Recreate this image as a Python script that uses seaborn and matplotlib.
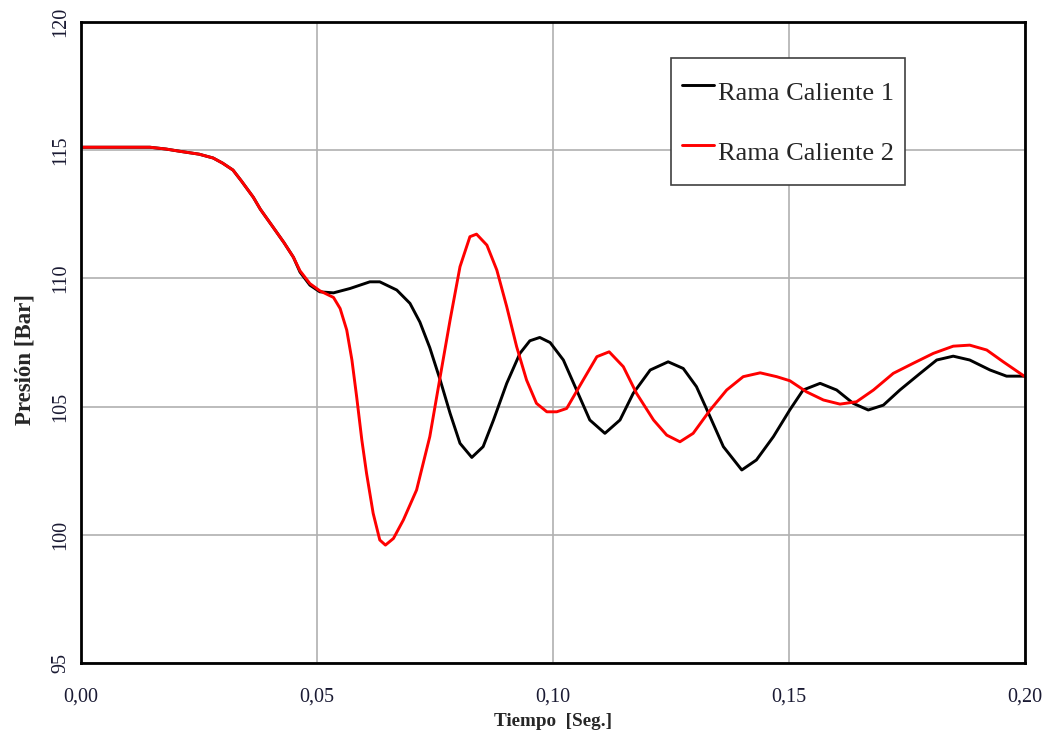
import numpy as np
import pandas as pd
import matplotlib
matplotlib.use('Agg')
import matplotlib.pyplot as plt
import seaborn as sns
from matplotlib.ticker import MultipleLocator, FuncFormatter

# Rama Caliente 1 (black)
t_rc1 = [0.000, 0.010, 0.0146, 0.018, 0.021, 0.025, 0.028, 0.030, 0.0322, 0.034,
         0.0365, 0.038, 0.0407, 0.043, 0.045, 0.0464, 0.0485, 0.0506, 0.0535, 0.057,
         0.0612, 0.0633, 0.0669, 0.0697, 0.0718, 0.0739, 0.0761, 0.0782, 0.0803, 0.0828,
         0.0852, 0.0874, 0.0902, 0.093, 0.0951, 0.0972, 0.0994, 0.1022, 0.105, 0.1078,
         0.111, 0.1142, 0.117, 0.1206, 0.1244, 0.1276, 0.1304, 0.1333, 0.1361, 0.140,
         0.1431, 0.1467, 0.1502, 0.153, 0.1566, 0.1601, 0.1636, 0.1668, 0.170, 0.1735,
         0.1778, 0.1813, 0.1848, 0.1883, 0.1926, 0.1961, 0.200]
p_rc1 = [115.12, 115.12, 115.12, 115.05, 114.96, 114.85, 114.70, 114.50, 114.23, 113.80,
         113.17, 112.70, 112.00, 111.40, 110.83, 110.25, 109.74, 109.48, 109.44, 109.61,
         109.87, 109.87, 109.55, 109.03, 108.30, 107.30, 106.04, 104.74, 103.57, 103.02,
         103.44, 104.48, 105.91, 107.08, 107.57, 107.70, 107.50, 106.82, 105.65, 104.48,
         103.96, 104.48, 105.52, 106.43, 106.75, 106.49, 105.78, 104.60, 103.44, 102.53,
         102.92, 103.83, 104.88, 105.65, 105.91, 105.65, 105.13, 104.87, 105.06, 105.65,
         106.30, 106.82, 106.97, 106.82, 106.43, 106.19, 106.19]

# Rama Caliente 2 (red)
t_rc2 = [0.000, 0.010, 0.0146, 0.018, 0.021, 0.025, 0.028, 0.030, 0.0322, 0.034,
         0.0365, 0.038, 0.0407, 0.043, 0.045, 0.0464, 0.0485, 0.0506, 0.0535, 0.0549,
         0.0563, 0.0574, 0.0584, 0.0595, 0.0605, 0.0619, 0.0633, 0.0645, 0.0662, 0.0683,
         0.0711, 0.0739, 0.0761, 0.0782, 0.0803, 0.0824, 0.0838, 0.086, 0.0881, 0.0902,
         0.0923, 0.0944, 0.0965, 0.0987, 0.1008, 0.1029, 0.1064, 0.1093, 0.1119, 0.1149,
         0.1177, 0.1213, 0.1241, 0.1269, 0.1297, 0.1333, 0.1368, 0.1403, 0.1439, 0.1474,
         0.1502, 0.1537, 0.1573, 0.1608, 0.1643, 0.1679, 0.1721, 0.1763, 0.1806, 0.1848,
         0.1883, 0.1919, 0.1954, 0.200]
p_rc2 = [115.12, 115.12, 115.12, 115.05, 114.96, 114.85, 114.70, 114.50, 114.23, 113.80,
         113.17, 112.70, 112.00, 111.40, 110.83, 110.30, 109.80, 109.52, 109.26, 108.83,
         107.99, 106.82, 105.39, 103.70, 102.40, 100.84, 99.80, 99.60, 99.86, 100.58,
         101.75, 103.83, 106.17, 108.38, 110.46, 111.63, 111.73, 111.30, 110.33, 108.90,
         107.34, 106.04, 105.13, 104.80, 104.80, 104.93, 106.04, 106.95, 107.14, 106.56,
         105.52, 104.48, 103.89, 103.63, 103.96, 104.87, 105.65, 106.17, 106.32, 106.17,
         106.01, 105.58, 105.26, 105.10, 105.19, 105.65, 106.30, 106.69, 107.08, 107.36,
         107.40, 107.21, 106.75, 106.17]

series_names = ['Rama Caliente 1', 'Rama Caliente 2']
series_colors = ['black', '#ff0000']
x_ticks = [0.00, 0.05, 0.10, 0.15, 0.20]
y_ticks = [95, 100, 105, 110, 115, 120]

df = pd.concat([
    pd.DataFrame({'t': t_rc1, 'p': p_rc1, 'serie': series_names[0]}),
    pd.DataFrame({'t': t_rc2, 'p': p_rc2, 'serie': series_names[1]}),
])

sns.set_style('white')
plt.rcParams['font.family'] = ['Liberation Serif', 'DejaVu Serif']

fig = plt.figure(figsize=(10.52, 7.38), dpi=100)
ax = fig.add_axes([0.077, 0.1016, 0.8973, 0.8684])

sns.lineplot(data=df, x='t', y='p', hue='serie', palette=series_colors,
             linewidth=2.1, ax=ax)

ax.set_xlim(x_ticks[0], x_ticks[-1])
ax.set_ylim(y_ticks[0], y_ticks[-1])
ax.set_xticks(x_ticks)
ax.set_yticks(y_ticks)
ax.xaxis.set_minor_locator(MultipleLocator(0.01))
ax.yaxis.set_minor_locator(MultipleLocator(1))
ax.xaxis.set_major_formatter(FuncFormatter(lambda v, pos: f'{v:.2f}'.replace('.', ',')))
ax.grid(True, which='major', color='#b0b0b0', linewidth=1.2)

for s in ax.spines.values():
    s.set_visible(True)
    s.set_color('black')
    s.set_linewidth(2)

ax.tick_params(axis='both', which='major', direction='inout', length=9, width=1,
               labelsize=14.5, colors='black', labelcolor='#1a1a33')
ax.tick_params(axis='both', which='minor', direction='in', length=5, width=1)
ax.tick_params(axis='x', which='major', pad=13)
for lab in ax.get_yticklabels():
    lab.set_rotation(90)
    lab.set_va('center')

ax.set_xlabel('Tiempo  [Seg.]', fontsize=13.8, fontweight='bold', labelpad=5)
ax.set_ylabel('Presión [Bar]', fontsize=16.5, fontweight='bold', labelpad=11)
ax.yaxis.label.set_y(0.474)

leg = ax.legend(loc='upper left', bbox_to_anchor=(0.611, 0.964), fontsize=19,
                frameon=True, fancybox=False, edgecolor='#404040', framealpha=1,
                handlelength=1.21, handletextpad=0.15, labelspacing=0.6,
                handleheight=2.2, borderpad=0.42, title=None)
leg.get_frame().set_linewidth(1.2)

fig.savefig('out.png', dpi=100)
